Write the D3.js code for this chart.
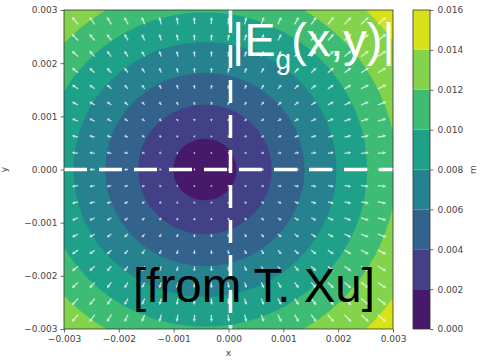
<!DOCTYPE html>
<html>
<head>
<meta charset="utf-8">
<script src="https://cdn.jsdelivr.net/npm/d3@7"></script>
<style>
  body { margin: 0; background: #fff; }
  svg { display: block; }
</style>
</head>
<body>
<script>
// contour levels of |E| (colorbar ticks)
const levels = [0, 0.002, 0.004, 0.006, 0.008, 0.010, 0.012, 0.014, 0.016];
// distance from the field minimum at which each level boundary sits
const ringRadii = [0, 0.00058, 0.00122, 0.00182, 0.0024, 0.00296, 0.00350, 0.0042, 0.0048];
const fieldCenter = [-0.00043, 0.0];
const axisTicks = [-0.003, -0.002, -0.001, 0, 0.001, 0.002, 0.003];
const quiverCount = 19;
const quiverExtent = 0.0028;

const width = 483, height = 361;
const margin = { top: 10, right: 90, bottom: 32, left: 64 };
const plotW = 329, plotH = 319;

const svg = d3.select("body").append("svg")
    .attr("width", width)
    .attr("height", height)
    .style("font-family", "DejaVu Sans, sans-serif");

const x = d3.scaleLinear().domain([-0.003, 0.003]).range([margin.left, margin.left + plotW]);
const y = d3.scaleLinear().domain([-0.003, 0.003]).range([margin.top + plotH, margin.top]);

// magnitude from distance to the centre, via the ring radii
const magOfR = d3.scaleLinear().domain(ringRadii).range(levels).clamp(true);
const mag = (px, py) => magOfR(Math.hypot(px - fieldCenter[0], py - fieldCenter[1]));

const bandColor = k => d3.interpolateViridis((k + 0.5) / (levels.length - 1));

svg.append("clipPath").attr("id", "plot-clip")
    .append("rect")
    .attr("x", margin.left).attr("y", margin.top)
    .attr("width", plotW).attr("height", plotH);

const plot = svg.append("g").attr("clip-path", "url(#plot-clip)");

// filled contours
const n = 240;
const values = new Array(n * n);
for (let j = 0; j < n; j++) {
    for (let i = 0; i < n; i++) {
        const px = -0.003 + (i + 0.5) / n * 0.006;
        const py = 0.003 - (j + 0.5) / n * 0.006;
        values[j * n + i] = mag(px, py);
    }
}
const gx = d3.scaleLinear().domain([0, n]).range([margin.left, margin.left + plotW]);
const gy = d3.scaleLinear().domain([0, n]).range([margin.top, margin.top + plotH]);
const path = d3.geoPath(d3.geoTransform({
    point(px, py) { this.stream.point(gx(px), gy(py)); }
}));

const bands = d3.contours().size([n, n]).thresholds(levels.slice(0, -1))(values);
plot.selectAll("path.band")
    .data(bands)
    .join("path")
    .attr("class", "band")
    .attr("d", path)
    .attr("fill", (d, i) => bandColor(i))
    .attr("stroke", (d, i) => bandColor(i))
    .attr("stroke-width", 0.5);

// quiver arrows
const qs = d3.range(quiverCount).map(i => -quiverExtent + i * 2 * quiverExtent / (quiverCount - 1));
const arrows = [];
qs.forEach(qy => qs.forEach(qx => {
    const dx = qx - fieldCenter[0], dy = qy - fieldCenter[1];
    const r = Math.hypot(dx, dy) || 1;
    arrows.push({ qx, qy, m: mag(qx, qy), ux: dx / r, uy: -dy / r });
}));
const arrowScale = 780; // px per unit of |E|
const arrowG = plot.append("g").attr("fill", "#eef8f8").attr("fill-opacity", 0.8);
arrowG.selectAll("path")
    .data(arrows)
    .join("path")
    .attr("transform", d => {
        const a = Math.atan2(d.uy, d.ux) * 180 / Math.PI;
        return `translate(${x(d.qx)},${y(d.qy)}) rotate(${a})`;
    })
    .attr("d", d => {
        const L = Math.max(d.m * arrowScale, 1.6);
        const h = Math.min(3.2, L * 0.45);
        const w = 0.65, hw = 1.7;
        const x0 = -L / 2, x1 = L / 2;
        return `M${x0},${-w}L${x1 - h},${-w}L${x1 - h},${-hw}L${x1},0L${x1 - h},${hw}L${x1 - h},${w}L${x0},${w}Z`;
    });

// dashed cross
const dash = svg.append("g")
    .attr("stroke", "#fff")
    .attr("stroke-width", 3.5)
    .attr("stroke-dasharray", "23 12");
dash.append("line")
    .attr("x1", x(0) + 2).attr("x2", x(0) + 2)
    .attr("y1", margin.top).attr("y2", margin.top + plotH);
dash.append("line")
    .attr("x1", margin.left).attr("x2", margin.left + plotW)
    .attr("y1", y(0)).attr("y2", y(0));

// frame
svg.append("rect")
    .attr("x", margin.left).attr("y", margin.top)
    .attr("width", plotW).attr("height", plotH)
    .attr("fill", "none").attr("stroke", "#333").attr("stroke-width", 0.8);

// axes
const fmt = d3.format(".3f");
const styleAxis = g => {
    g.select(".domain").remove();
    g.selectAll(".tick line").attr("stroke", "#444").attr("stroke-width", 0.8);
    g.selectAll(".tick text").attr("fill", "#444").style("font-size", "9px").style("font-family", "DejaVu Sans");
};
svg.append("g")
    .attr("transform", `translate(0,${margin.top + plotH})`)
    .call(d3.axisBottom(x).tickValues(axisTicks).tickFormat(fmt).tickSize(3.5).tickPadding(3))
    .call(styleAxis);
svg.append("g")
    .attr("transform", `translate(${margin.left},0)`)
    .call(d3.axisLeft(y).tickValues(axisTicks).tickFormat(fmt).tickSize(3.5).tickPadding(3))
    .call(styleAxis);

svg.append("text")
    .attr("x", x(0)).attr("y", 356)
    .attr("text-anchor", "middle")
    .attr("fill", "#444").style("font-size", "9px")
    .text("x");
svg.append("text")
    .attr("transform", `translate(7,${y(0)}) rotate(-90)`)
    .attr("text-anchor", "middle")
    .attr("fill", "#444").style("font-size", "9px")
    .text("y");

// colorbar
const cb = { x: 413, w: 17 };
const cy = d3.scaleLinear().domain([levels[0], levels[levels.length - 1]]).range([margin.top + plotH, margin.top]);
svg.append("g").selectAll("rect")
    .data(levels.slice(0, -1))
    .join("rect")
    .attr("x", cb.x)
    .attr("y", (d, i) => cy(levels[i + 1]))
    .attr("width", cb.w)
    .attr("height", (d, i) => cy(levels[i]) - cy(levels[i + 1]))
    .attr("fill", (d, i) => bandColor(i));
svg.append("rect")
    .attr("x", cb.x).attr("y", margin.top)
    .attr("width", cb.w).attr("height", plotH)
    .attr("fill", "none").attr("stroke", "#333").attr("stroke-width", 0.8);
svg.append("g")
    .attr("transform", `translate(${cb.x + cb.w},0)`)
    .call(d3.axisRight(cy).tickValues(levels).tickFormat(fmt).tickSize(3.5).tickPadding(4))
    .call(styleAxis);
svg.append("text")
    .attr("transform", `translate(476,${y(0)}) rotate(-90)`)
    .attr("text-anchor", "middle")
    .attr("fill", "#444").style("font-size", "9px")
    .text("m");

// overlay labels
const title = svg.append("text")
    .attr("x", 232).attr("y", 56)
    .attr("fill", "#fff")
    .style("font-family", "Liberation Sans, Arial, sans-serif")
    .style("font-size", "47px");
title.append("tspan").text("|E");
title.append("tspan").attr("dy", 13).style("font-size", "28px").text("g");
title.append("tspan").attr("dy", -13).text("(x,y)|");

svg.append("text")
    .attr("x", 133).attr("y", 302)
    .attr("fill", "#000")
    .style("font-family", "Liberation Sans, Arial, sans-serif")
    .style("font-size", "47.5px")
    .text("[from T. Xu]");
</script>
</body>
</html>
